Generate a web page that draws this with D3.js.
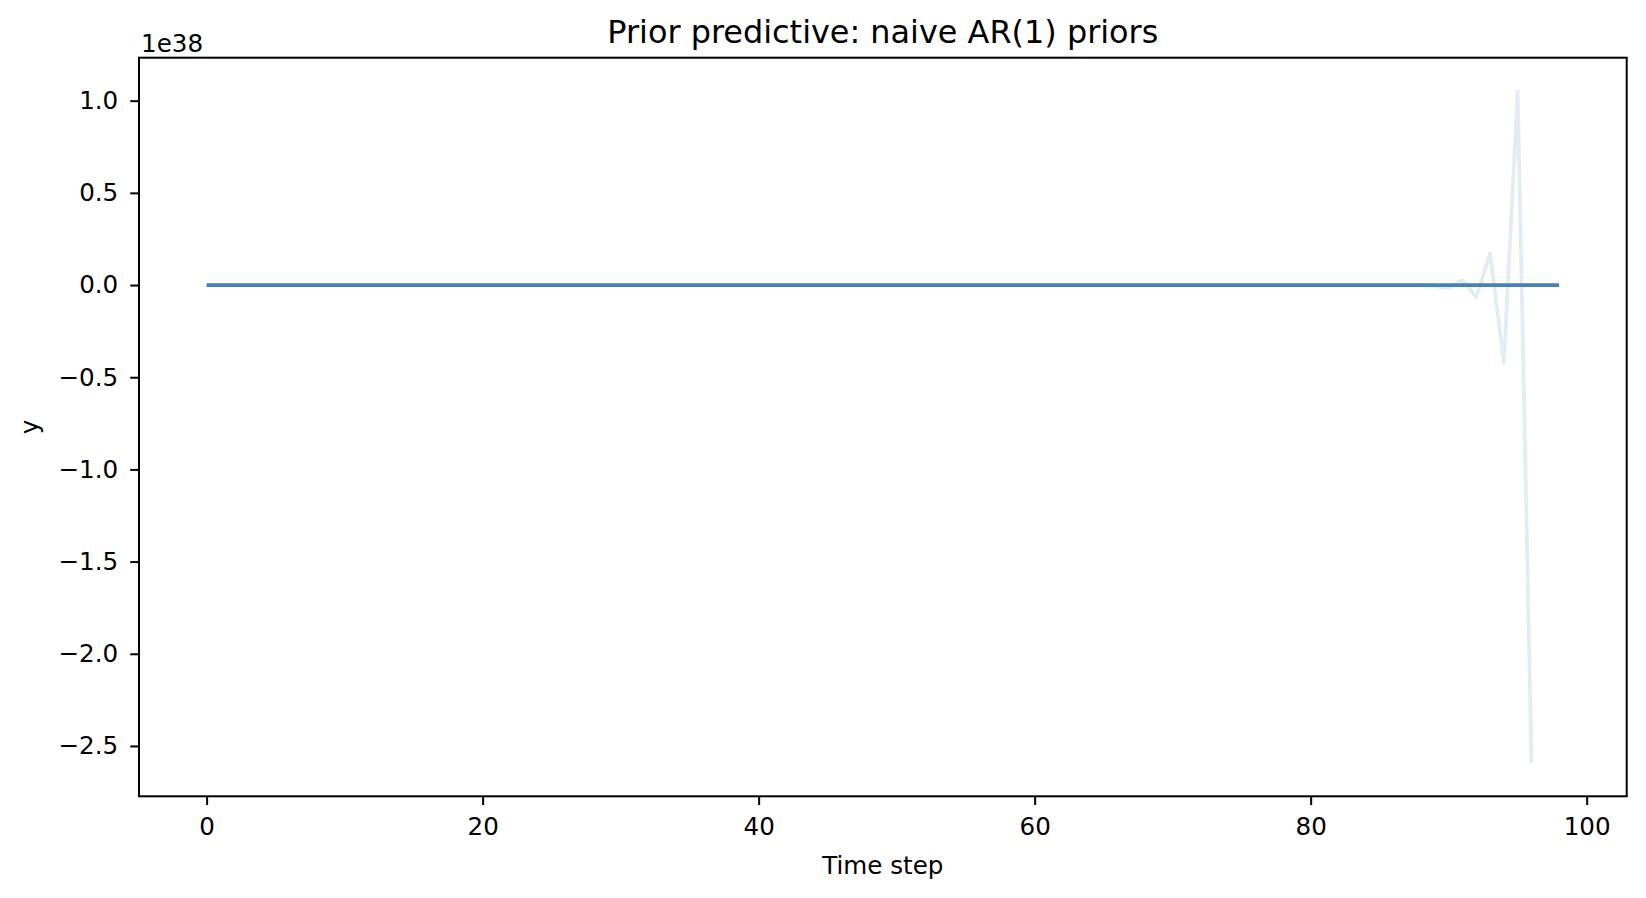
<!DOCTYPE html>
<html>
<head>
<meta charset="utf-8">
<script src="https://cdn.jsdelivr.net/npm/d3@7"></script>
<style>
  html, body { margin: 0; padding: 0; background: #fff; }
  svg { display: block; font-family: "DejaVu Sans", sans-serif; }
</style>
</head>
<body>
<svg id="chart" width="1646" height="898"></svg>
<script>
// ---------- data ----------
const title = "Prior predictive: naive AR(1) priors";
const xLabel = "Time step";
const yLabel = "y";
const offsetLabel = "1e38";
const scaleFactor = 1e38;

const timeSteps = d3.range(0, 99); // 0..98

// one prior-predictive sample path (in units of 1e38); null = overflow (not drawn)
const samplePath = [
  0, 0, 0, 0, 0, 0, 0, 0, 0, 0,
  0, 0, 0, 0, 0, 0, 0, 0, 0, 0,
  0, 0, 0, 0, 0, 0, 0, 0, 0, 0,
  0, 0, 0, 0, 0, 0, 0, 0, 0, 0,
  0, 0, 0, 0, 0, 0, 0, 0, 0, 0,
  0, 0, 0, 0, 0, 0, 0, 0, 0, 0,
  0, 0, 0, 0, 0, 0, 0, 0, 0, 0,
  0, 0, 0, 0, 0, 0, 0, 0, 0, 0,
  0, 0, 0, 0, 0, 0, 0, 0, 0, -0.004,
  -0.016, 0.028, -0.066, 0.172, -0.42, 1.051, -2.591, null, null
];

// median / central path (in units of 1e38)
const medianPath = [
  0, 0, 0, 0, 0, 0, 0, 0, 0, 0,
  0, 0, 0, 0, 0, 0, 0, 0, 0, 0,
  0, 0, 0, 0, 0, 0, 0, 0, 0, 0,
  0, 0, 0, 0, 0, 0, 0, 0, 0, 0,
  0, 0, 0, 0, 0, 0, 0, 0, 0, 0,
  0, 0, 0, 0, 0, 0, 0, 0, 0, 0,
  0, 0, 0, 0, 0, 0, 0, 0, 0, 0,
  0, 0, 0, 0, 0, 0, 0, 0, 0, 0,
  0, 0, 0, 0, 0, 0, 0, 0, 0, 0,
  0, 0, 0, 0, 0, 0, 0, 0, 0
];

const xTicks = [0, 20, 40, 60, 80, 100];
const yTicks = [1.0, 0.5, 0.0, -0.5, -1.0, -1.5, -2.0, -2.5];

// ---------- layout ----------
const W = 1646, H = 898;
const plot = { left: 139, right: 1626.7, top: 57.7, bottom: 796.3 };
const lineColor = "#4682b4";
const lw = 3.75;
const spineW = 2;
const tickLen = 8.75;
const tickFont = 24.6;
const titleFont = 31.9;

const svg = d3.select("#chart");

// domains with matplotlib-style 5% margins
const xExt = d3.extent(timeSteps);
const xPad = (xExt[1] - xExt[0]) * 0.05;
const allY = samplePath.concat(medianPath).filter(v => v !== null).map(v => v * scaleFactor);
const yExt = d3.extent(allY);
const yPad = (yExt[1] - yExt[0]) * 0.05;

const x = d3.scaleLinear().domain([xExt[0] - xPad, xExt[1] + xPad]).range([plot.left, plot.right]);
const y = d3.scaleLinear().domain([yExt[0] - yPad, yExt[1] + yPad]).range([plot.bottom, plot.top]);

svg.append("defs").append("clipPath").attr("id", "clip")
  .append("rect")
  .attr("x", plot.left).attr("y", plot.top)
  .attr("width", plot.right - plot.left).attr("height", plot.bottom - plot.top);

const g = svg.append("g").attr("clip-path", "url(#clip)");

const line = d3.line()
  .defined(d => d.v !== null)
  .x(d => x(d.t))
  .y(d => y(d.v * scaleFactor));

g.append("path")
  .datum(timeSteps.map((t, i) => ({ t, v: samplePath[i] })))
  .attr("d", line)
  .attr("fill", "none")
  .attr("stroke", lineColor)
  .attr("stroke-opacity", 0.15)
  .attr("stroke-width", lw)
  .attr("stroke-linejoin", "round")
  .attr("stroke-linecap", "butt");

g.append("path")
  .datum(timeSteps.map((t, i) => ({ t, v: medianPath[i] })))
  .attr("d", line)
  .attr("fill", "none")
  .attr("stroke", lineColor)
  .attr("stroke-width", lw)
  .attr("stroke-linejoin", "round");

// ---------- axes ----------
const fmtY = v => {
  const s = d3.format(".1f")(Math.abs(v));
  return (v < 0 ? "\u2212" : "") + s;
};

const xAxis = d3.axisBottom(x).tickValues(xTicks).tickSize(tickLen).tickPadding(12).tickFormat(d3.format("d"));
const xg = svg.append("g").attr("transform", `translate(0,${plot.bottom})`).call(xAxis);

const yAxis = d3.axisLeft(y).tickValues(yTicks.map(v => v * scaleFactor)).tickSize(tickLen).tickPadding(12)
  .tickFormat(v => fmtY(v / scaleFactor));
const yg = svg.append("g").attr("transform", `translate(${plot.left},0)`).call(yAxis);

[xg, yg].forEach(a => {
  a.select(".domain").remove();
  a.selectAll(".tick line").attr("stroke", "#000").attr("stroke-width", spineW);
  a.selectAll(".tick text").attr("fill", "#000").style("font-size", tickFont + "px")
    .style("font-family", "'DejaVu Sans', sans-serif");
});

// spines
svg.append("rect")
  .attr("x", plot.left).attr("y", plot.top)
  .attr("width", plot.right - plot.left).attr("height", plot.bottom - plot.top)
  .attr("fill", "none").attr("stroke", "#000").attr("stroke-width", spineW);

// offset text
svg.append("text")
  .attr("x", plot.left + 2).attr("y", 51.5)
  .style("font-size", tickFont + "px")
  .text(offsetLabel);

// title
svg.append("text")
  .attr("x", (plot.left + plot.right) / 2).attr("y", 43)
  .attr("text-anchor", "middle")
  .style("font-size", titleFont + "px")
  .text(title);

// x label
svg.append("text")
  .attr("x", (plot.left + plot.right) / 2).attr("y", 873.5)
  .attr("text-anchor", "middle")
  .style("font-size", tickFont + "px")
  .text(xLabel);

// y label
svg.append("text")
  .attr("transform", `translate(38,${(plot.top + plot.bottom) / 2}) rotate(-90)`)
  .attr("text-anchor", "middle")
  .style("font-size", tickFont + "px")
  .text(yLabel);
</script>
</body>
</html>
